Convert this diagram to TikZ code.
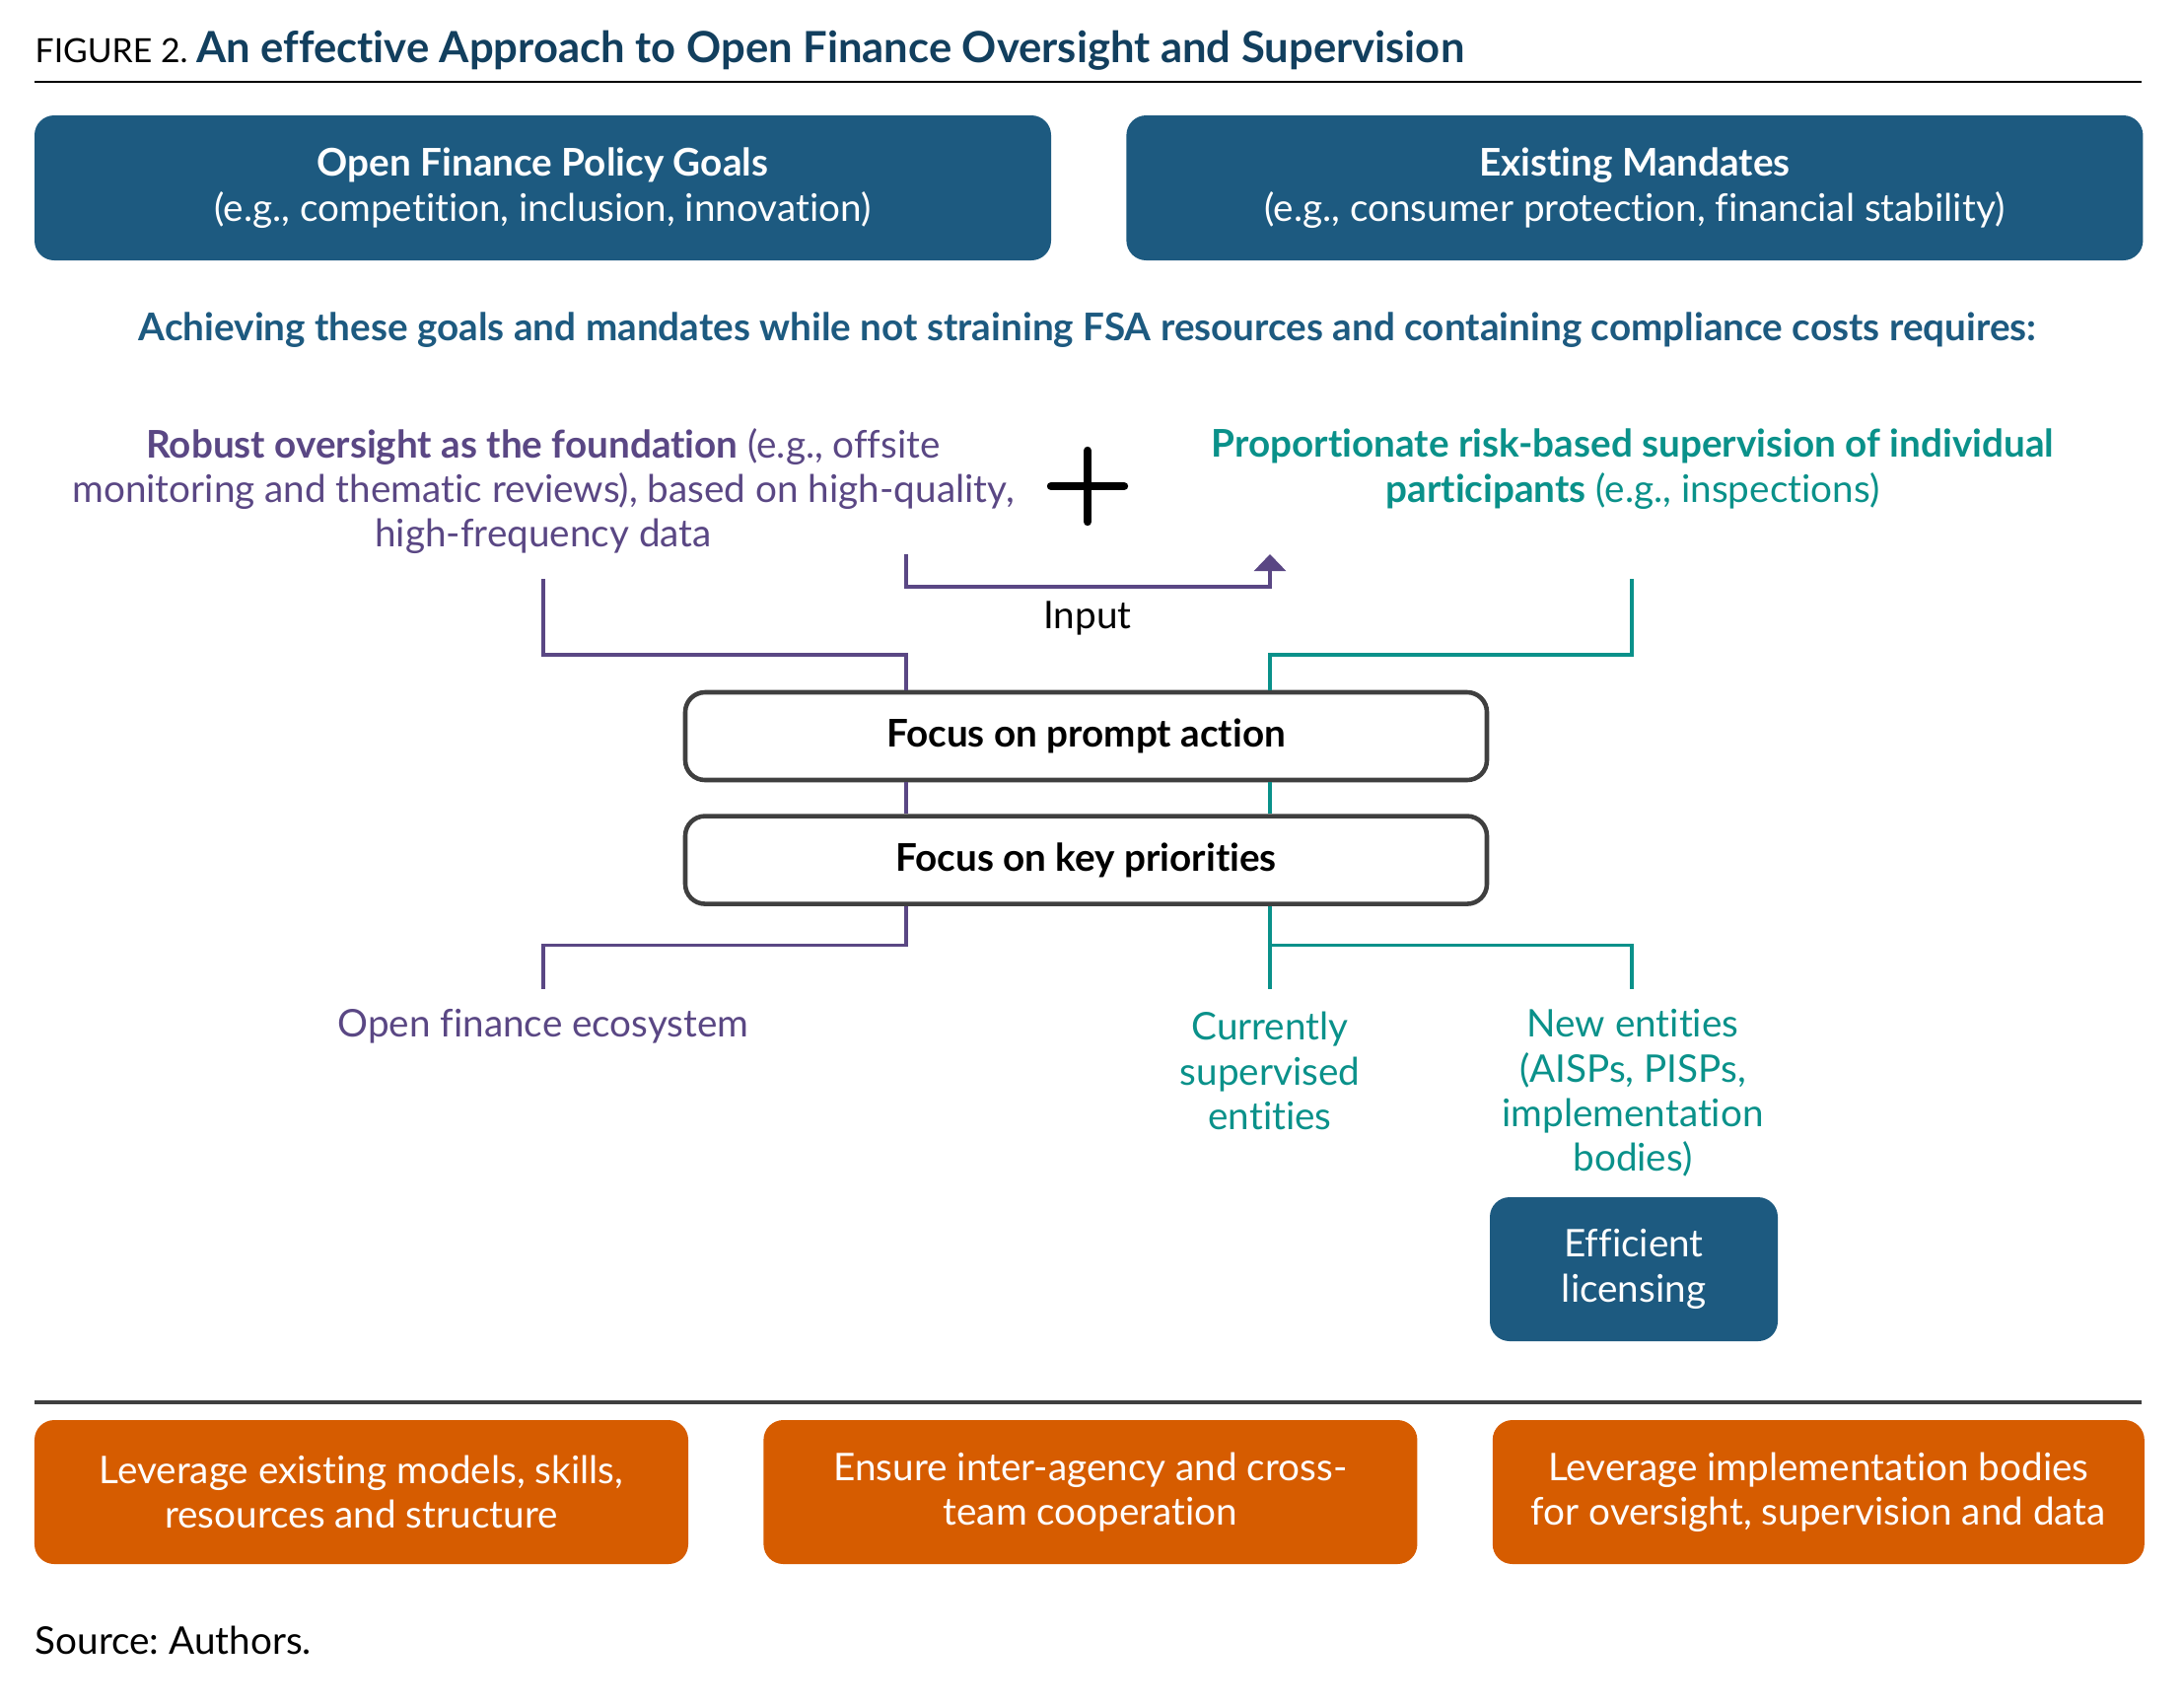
\documentclass[tikz,border=0pt]{standalone}
\usepackage{fontspec}
\setmainfont{Lato}[Ligatures=NoCommon]
\usetikzlibrary{arrows.meta, positioning, calc}

\definecolor{fsablue}{HTML}{1D5A80}
\definecolor{titleblue}{HTML}{123F5E}
\definecolor{ovpurple}{HTML}{5A4784}
\definecolor{supteal}{HTML}{0A918A}
\definecolor{levorange}{HTML}{D65C00}
\definecolor{focusgray}{HTML}{3F3F3F}
\frenchspacing

\begin{document}
\begin{tikzpicture}[
      every node/.style={font=\fontsize{11}{12.9}\selectfont, align=center, inner sep=0pt},
      bluebox/.style={fill=fsablue, text=white, rounded corners=0.2cm},
      orangebox/.style={fill=levorange, text=white, rounded corners=0.2cm, minimum width=6.63cm, minimum height=1.46cm},
      focusbox/.style={draw=focusgray, line width=1.3pt, rounded corners=0.2cm, minimum width=8.13cm, minimum height=0.89cm, font=\fontsize{11}{12.9}\selectfont\bfseries},
      ovline/.style={draw=ovpurple, line width=0.9pt},
      supline/.style={draw=supteal, line width=0.9pt}
    ]
      \useasboundingbox (0,0) rectangle (22.14,-17.31);

      \node[anchor=base west, font=\fontsize{9.6}{12}\selectfont] (title) at (0.35,-0.63)
        {FIGURE 2. {\fontsize{12.4}{14}\selectfont\bfseries\color{titleblue}An effective Approach to Open Finance Oversight and Supervision}};
      \draw[line width=0.7pt] (0.35,-0.83) -- (21.72,-0.83);

      \node[bluebox, minimum width=10.31cm, minimum height=1.47cm] (goals) at (5.505,-1.905)
        {\textbf{Open Finance Policy Goals}\\(e.g., competition, inclusion, innovation)};
      \node[bluebox, minimum width=10.31cm, minimum height=1.47cm, right=0.75cm of goals] (mandates)
        {\textbf{Existing Mandates}\\(e.g., consumer protection, financial stability)};

      \node[text=fsablue, font=\fontsize{11}{12.9}\selectfont\bfseries] (requires) at (11.03,-3.35)
        {Achieving these goals and mandates while not straining FSA resources and containing compliance costs requires:};

      \node[text=ovpurple] (oversight) at (5.51,-4.98)
        {\textbf{Robust oversight as the foundation} (e.g., offsite\\monitoring and thematic reviews), based on high-quality,\\high-frequency data};
      \node[text=supteal] (supervision) at (16.56,-4.755)
        {\textbf{Proportionate risk-based supervision of individual}\\\textbf{participants} (e.g., inspections)};

      \coordinate (plus) at (11.03,-4.93);
      \draw[line width=2.4pt, line cap=round] ($(plus)+(-0.37,0)$) -- ($(plus)+(0.37,0)$)
        ($(plus)+(0,-0.36)$) -- ($(plus)+(0,0.36)$);

      \coordinate (instart) at (9.19,-5.62);
      \coordinate (inend) at (12.88,-5.62);
      \draw[ovline, -{Triangle[width=0.32cm, length=0.17cm]}] (instart) -- ++(0,-0.33) -| (inend);
      \node (input) at (11.03,-6.27) {Input};

      \node[focusbox] (action) at (11.015,-7.465) {Focus on prompt action};
      \node[focusbox, below=0.32cm of action] (priorities) {Focus on key priorities};

      \coordinate (ovtop) at (5.51,-5.87);
      \coordinate (ovbus) at (9.19,-6.64);
      \coordinate (ovend) at (5.51,-10.03);
      \draw[ovline] (ovtop) |- (ovbus) -- (ovbus |- action.north);
      \draw[ovline] (ovbus |- action.south) -- (ovbus |- priorities.north);
      \draw[ovline] (ovbus |- priorities.south) -- ++(0,-0.40) -| (ovend);

      \coordinate (suptop) at (16.55,-5.87);
      \coordinate (supbus) at (12.88,-6.64);
      \coordinate (curend) at (12.88,-10.03);
      \coordinate (newend) at (16.55,-10.03);
      \draw[supline] (suptop) |- (supbus) -- (supbus |- action.north);
      \draw[supline] (supbus |- action.south) -- (supbus |- priorities.north);
      \draw[supline] (supbus |- priorities.south) -- (curend);
      \draw[supline] (supbus |- priorities.south) ++(0,-0.40) -| (newend);

      \node[text=ovpurple] (ecosystem) at (5.51,-10.41) {Open finance ecosystem};
      \node[text=supteal] (current) at (12.88,-10.86) {Currently\\supervised\\entities};
      \node[text=supteal] (newent) at (16.56,-11.085) {New entities\\(AISPs, PISPs,\\implementation\\bodies)};

      \node[bluebox, minimum width=2.92cm, minimum height=1.46cm] (licensing) at (16.57,-12.87) {Efficient\\licensing};

      \draw[line width=1.3pt, draw=focusgray] (0.35,-14.22) -- (21.72,-14.22);

      \node[orangebox] (models) at (3.665,-15.13) {Leverage existing models, skills,\\resources and structure};
      \node[orangebox, right=0.75cm of models] (coop) {Ensure inter-agency and cross-\\team cooperation};
      \node[orangebox, minimum width=6.61cm, right=0.75cm of coop] (bodies) {Leverage implementation bodies\\for oversight, supervision and data};

      \node[anchor=base west] (source) at (0.35,-16.77) {Source: Authors.};
    \end{tikzpicture}
\end{document}
